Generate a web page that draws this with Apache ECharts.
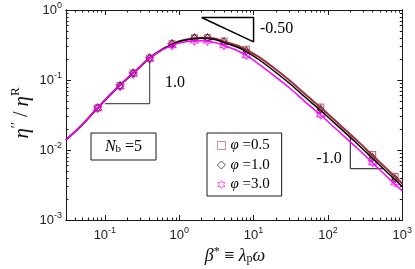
<!DOCTYPE html>
<html><head><meta charset="utf-8">
<script src="https://cdn.jsdelivr.net/npm/echarts@6/dist/echarts.min.js"></script>
<style>html,body{margin:0;padding:0;background:#fff}#c{width:415px;height:269px}</style>
</head><body><div id="c"></div>
<script>
// model curves
const lineX = [0.03, 0.05, 0.08, 0.15, 0.25, 0.4, 0.6, 0.8, 1, 1.5, 2, 3, 4, 6, 8, 12, 20, 30, 50, 80, 150, 250, 400, 600, 1000];
const lineBrown = [0.0139, 0.0232, 0.0398, 0.0794, 0.130, 0.206, 0.277, 0.322, 0.357, 0.392, 0.401, 0.392, 0.354, 0.311, 0.272, 0.210, 0.141, 0.100, 0.0620, 0.0405, 0.0221, 0.0135, 0.00835, 0.00553, 0.00332];
const lineBlack = [0.0139, 0.0232, 0.0398, 0.0794, 0.130, 0.206, 0.277, 0.321, 0.355, 0.385, 0.394, 0.379, 0.343, 0.296, 0.255, 0.193, 0.128, 0.0906, 0.0562, 0.0367, 0.0200, 0.0122, 0.00756, 0.00501, 0.00301];
const lineMagenta = [0.0139, 0.0232, 0.0398, 0.0794, 0.130, 0.206, 0.273, 0.311, 0.338, 0.360, 0.363, 0.343, 0.311, 0.264, 0.224, 0.166, 0.110, 0.0781, 0.0484, 0.0316, 0.0172, 0.0105, 0.00652, 0.00432, 0.00259];
// simulation markers
const markX = [0.08, 0.16, 0.24, 0.4, 0.8, 1.6, 2.4, 4, 8, 80, 400, 800];
const markBrown = [0.040, 0.083, 0.126, 0.206, 0.33, 0.40, 0.405, 0.36, 0.275, 0.041, 0.0086, 0.0042];
const markBlack = [0.040, 0.083, 0.126, 0.206, 0.33, 0.40, 0.40, 0.35, 0.26, 0.038, 0.0078, 0.0039];
const markMagenta = [0.0394, 0.080, 0.121, 0.198, 0.31, 0.36, 0.36, 0.31, 0.225, 0.032, 0.0066, 0.0034];
const seriesNames = ['φ =0.5', 'φ =1.0', 'φ =3.0'];
const seriesColors = ['#b5475a', '#000000', '#ff00ff'];
// ticks
const xMajorTicks = [0.1, 1, 10, 100, 1000];
const xMinorTicks = [0.04,0.05,0.06,0.07,0.08,0.09, 0.2,0.3,0.4,0.5,0.6,0.7,0.8,0.9, 2,3,4,5,6,7,8,9, 20,30,40,50,60,70,80,90, 200,300,400,500,600,700,800,900];
const yMajorTicks = [0.001, 0.01, 0.1, 1];
const yMinorTicks = [0.002,0.003,0.004,0.005,0.006,0.007,0.008,0.009, 0.02,0.03,0.04,0.05,0.06,0.07,0.08,0.09, 0.2,0.3,0.4,0.5,0.6,0.7,0.8,0.9];
// slope triangles
const slopeHalfX = [2, 10, 10, 2];
const slopeHalfY = [0.78, 0.78, 0.35, 0.78];
const slopeOneX = [0.1, 0.4, 0.4];
const slopeOneY = [0.046, 0.046, 0.18];
const slopeMinusX = [200, 200, 560];
const slopeMinusY = [0.0155, 0.0054, 0.0054];

const pair = (xs, ys) => xs.map((x, i) => [x, ys[i]]);
const AX = '#1a1a1a';
const SERIF = 'Liberation Serif';
const SANS = 'Liberation Sans';
const supFmt = v => '{b|10}{s|' + Math.round(Math.log10(v)) + '}';
const labRich = { b: { fontSize: 13, fontFamily: SANS, color: '#222' }, s: { fontSize: 9, fontFamily: SANS, color: '#222', padding: [0, 0, 9, 0] } };

function xAx(pos, ticks, len, label) {
  return { type: 'log', logBase: 10, min: 0.03, max: 1000, position: pos,
    axisLine: { show: true, onZero: false, lineStyle: { color: AX, width: 1 } },
    axisTick: { show: true, inside: true, length: len, customValues: ticks, lineStyle: { color: AX, width: 1 } },
    axisLabel: label ? { show: true, customValues: xMajorTicks, formatter: supFmt, rich: labRich, margin: 6 } : { show: false },
    splitLine: { show: false }, minorTick: { show: false } };
}
function yAx(pos, ticks, len, label) {
  return { type: 'log', logBase: 10, min: 0.001, max: 1, position: pos,
    axisLine: { show: true, onZero: false, lineStyle: { color: AX, width: 1 } },
    axisTick: { show: true, inside: true, length: len, customValues: ticks, lineStyle: { color: AX, width: 1 } },
    axisLabel: label ? { show: true, customValues: yMajorTicks, formatter: supFmt, rich: labRich, margin: 4 } : { show: false },
    splitLine: { show: false }, minorTick: { show: false } };
}
const hexagram = 'path://M0,-10L2.887,-5L8.66,-5L5.774,0L8.66,5L2.887,5L0,10L-2.887,5L-8.66,5L-5.774,0L-8.66,-5L-2.887,-5Z';

const chart = echarts.init(document.getElementById('c'), null, { renderer: 'canvas' });
chart.setOption({
  animation: false,
  backgroundColor: '#fff',
  grid: { left: 66, top: 10, right: 10, bottom: 49, containLabel: false },
  xAxis: [xAx('bottom', xMajorTicks, 5, true), xAx('bottom', xMinorTicks, 2.5, false), xAx('top', xMajorTicks, 5, false), xAx('top', xMinorTicks, 2.5, false)],
  yAxis: [yAx('left', yMajorTicks, 5, true), yAx('left', yMinorTicks, 2.5, false), yAx('right', yMajorTicks, 5, false), yAx('right', yMinorTicks, 2.5, false)],
  legend: {
    orient: 'vertical', left: 207, top: 133, padding: [5, 12, 4, 10], itemGap: 4.5, itemWidth: 8, itemHeight: 8, itemTextGap: 6,
    borderColor: AX, borderWidth: 1, backgroundColor: '#fff',
    data: seriesNames.map((n, i) => ({ name: n, itemStyle: { color: 'rgba(0,0,0,0)', borderColor: seriesColors[i], borderWidth: 0.8 } })),
    formatter: n => '{i|φ}{r|' + n.slice(1) + '}',
    textStyle: { fontFamily: SERIF, fontSize: 15, color: '#000', lineHeight: 15,
      rich: { i: { fontFamily: SERIF, fontStyle: 'italic', fontSize: 15 }, r: { fontFamily: SERIF, fontSize: 15 } } }
  },
  series: [
    { type: 'line', data: pair(slopeOneX, slopeOneY), symbol: 'none', lineStyle: { color: '#555', width: 1.2 }, silent: true },
    { type: 'line', data: pair(slopeHalfX, slopeHalfY), symbol: 'none', lineStyle: { color: '#000', width: 1.5 }, silent: true },
    { type: 'line', data: pair(slopeMinusX, slopeMinusY), symbol: 'none', lineStyle: { color: '#111', width: 1 }, silent: true },
    { type: 'line', data: pair(lineX, lineBrown), smooth: 0.3, symbol: 'none', lineStyle: { color: '#9e2f3c', width: 2 } },
    { type: 'line', data: pair(lineX, lineBlack), smooth: 0.3, symbol: 'none', lineStyle: { color: '#000', width: 1.5 } },
    { type: 'line', data: pair(lineX, lineMagenta), smooth: 0.3, symbol: 'none', lineStyle: { color: '#ff00ff', width: 1.5 } },
    { name: seriesNames[0], type: 'scatter', data: pair(markX, markBrown), symbol: 'rect', symbolSize: 6,
      itemStyle: { color: 'rgba(0,0,0,0)', borderColor: seriesColors[0], borderWidth: 1.1 } },
    { name: seriesNames[1], type: 'scatter', data: pair(markX, markBlack), symbol: 'diamond', symbolSize: [6, 8],
      itemStyle: { color: 'rgba(0,0,0,0)', borderColor: seriesColors[1], borderWidth: 1 } },
    { name: seriesNames[2], type: 'scatter', data: pair(markX, markMagenta), symbol: hexagram, symbolSize: 8,
      itemStyle: { color: 'rgba(0,0,0,0)', borderColor: seriesColors[2], borderWidth: 1.1 } }
  ],
  graphic: [
    { type: 'text', x: 22, y: 113, rotation: Math.PI / 2, style: {
      text: '{i|η}{p|′′}{r| / }{i|η}{s|R}', align: 'center', verticalAlign: 'middle',
      rich: { i: { fontFamily: SERIF, fontStyle: 'italic', fontSize: 21, fill: '#111' }, p: { fontFamily: SERIF, fontSize: 14, fill: '#111', padding: [0, 0, 10, 0] },
        r: { fontFamily: SERIF, fontSize: 20, fill: '#111' }, s: { fontFamily: SERIF, fontSize: 13, fill: '#111', padding: [0, 0, 12, 0] } } } },
    { type: 'text', x: 235, y: 256, style: {
      text: '{i|β}{s|*}{r| ≡ }{i|λ}{b|p}{i|ω}', align: 'center', verticalAlign: 'middle',
      rich: { i: { fontFamily: SERIF, fontStyle: 'italic', fontSize: 18, fill: '#111' }, r: { fontFamily: SERIF, fontSize: 18, fill: '#111' },
        s: { fontFamily: SERIF, fontSize: 12, fill: '#111', padding: [0, 0, 8, 0] }, b: { fontFamily: SERIF, fontSize: 12, fill: '#111', padding: [6, 0, 0, 0] } } } },
    { type: 'rect', shape: { x: 91, y: 133, width: 65, height: 27 }, style: { fill: '#fff', stroke: AX, lineWidth: 1 }, z: 10 },
    { type: 'text', x: 123.5, y: 146.5, z: 11, style: {
      text: '{i|N}{b|b}{r| =5}', align: 'center', verticalAlign: 'middle',
      rich: { i: { fontFamily: SERIF, fontStyle: 'italic', fontSize: 16, fill: '#000' }, r: { fontFamily: SERIF, fontSize: 16, fill: '#000' },
        b: { fontFamily: SERIF, fontSize: 11, fill: '#000', padding: [6, 0, 0, 0] } } } },
    { type: 'text', x: 175, y: 83, style: { text: '1.0', fontFamily: SERIF, fontSize: 16, fill: '#000', align: 'center', verticalAlign: 'middle' } },
    { type: 'text', x: 260, y: 28.5, style: { text: '-0.50', fontFamily: SERIF, fontSize: 16, fill: '#000', align: 'left', verticalAlign: 'middle' } },
    { type: 'text', x: 329, y: 159, style: { text: '-1.0', fontFamily: SERIF, fontSize: 16, fill: '#000', align: 'center', verticalAlign: 'middle' } }
  ]
});
</script></body></html>
